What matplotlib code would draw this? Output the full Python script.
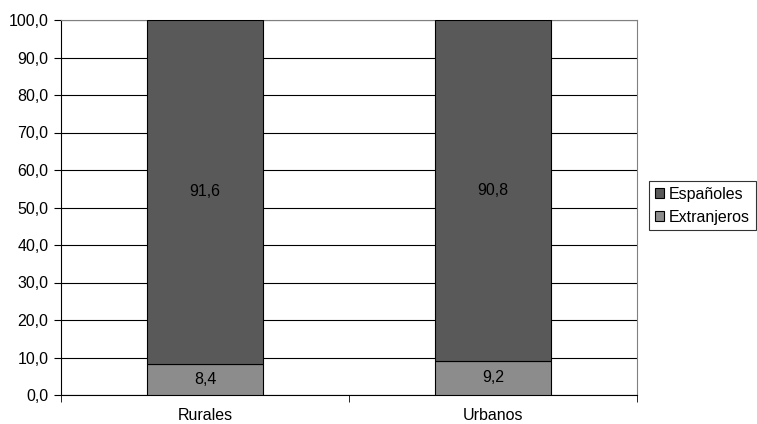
import matplotlib.pyplot as plt
import numpy as np

plt.rcParams['font.family'] = ['Liberation Sans', 'DejaVu Sans']

categories = ["Rurales", "Urbanos"]
extranjeros = [8.4, 9.2]
espanoles = [91.6, 90.8]
yticks = np.arange(0, 101, 10)

FS = 11.5

fig = plt.figure(figsize=(7.57, 4.24), dpi=100)
ax = fig.add_axes([61 / 757, 29 / 424, 576 / 757, 375 / 424])

x = np.arange(len(categories))
b1 = ax.bar(x, extranjeros, width=0.4, color="#8c8c8c", edgecolor="black", linewidth=0.8,
            label="Extranjeros", zorder=3)
b2 = ax.bar(x, espanoles, width=0.4, bottom=extranjeros, color="#595959", edgecolor="black",
            linewidth=0.8, label="Españoles", zorder=3)

for xi, v in zip(x, extranjeros):
    ax.text(xi, v / 2, f"{v:.1f}".replace(".", ","), ha="center", va="center", fontsize=FS, zorder=4)
for xi, b, v in zip(x, extranjeros, espanoles):
    ax.text(xi, b + v / 2, f"{v:.1f}".replace(".", ","), ha="center", va="center", fontsize=FS, zorder=4)

ax.set_xlim(-0.5, 1.5)
ax.set_ylim(0, 100)
ax.set_yticks(yticks)
ax.set_yticklabels([f"{t:.1f}".replace(".", ",") for t in yticks], fontsize=FS)
ax.yaxis.grid(True, color="black", linewidth=0.8, zorder=0)
ax.set_xticks(x)
ax.set_xticklabels(categories, fontsize=FS)
ax.tick_params(axis="x", length=0, pad=9)
ax.set_xticks([-0.5, 0.5, 1.5], minor=True)
ax.tick_params(axis="x", which="minor", length=5, direction="out")
ax.tick_params(axis="y", length=5, direction="out", pad=4)

for s in ["top", "right"]:
    ax.spines[s].set_color("#808080")
for s in ["left", "bottom"]:
    ax.spines[s].set_color("black")

handles = [b2, b1]
leg = fig.legend(handles, ["Españoles", "Extranjeros"], loc="upper left",
                 bbox_to_anchor=(649 / 757, 1 - 181 / 424), fontsize=FS, frameon=True,
                 fancybox=False, edgecolor="black", handlelength=0.6, handleheight=0.6,
                 handletextpad=0.3, borderpad=0.35, labelspacing=0.5, borderaxespad=0)
leg.get_frame().set_linewidth(0.8)

fig.savefig("out.png", dpi=100)
